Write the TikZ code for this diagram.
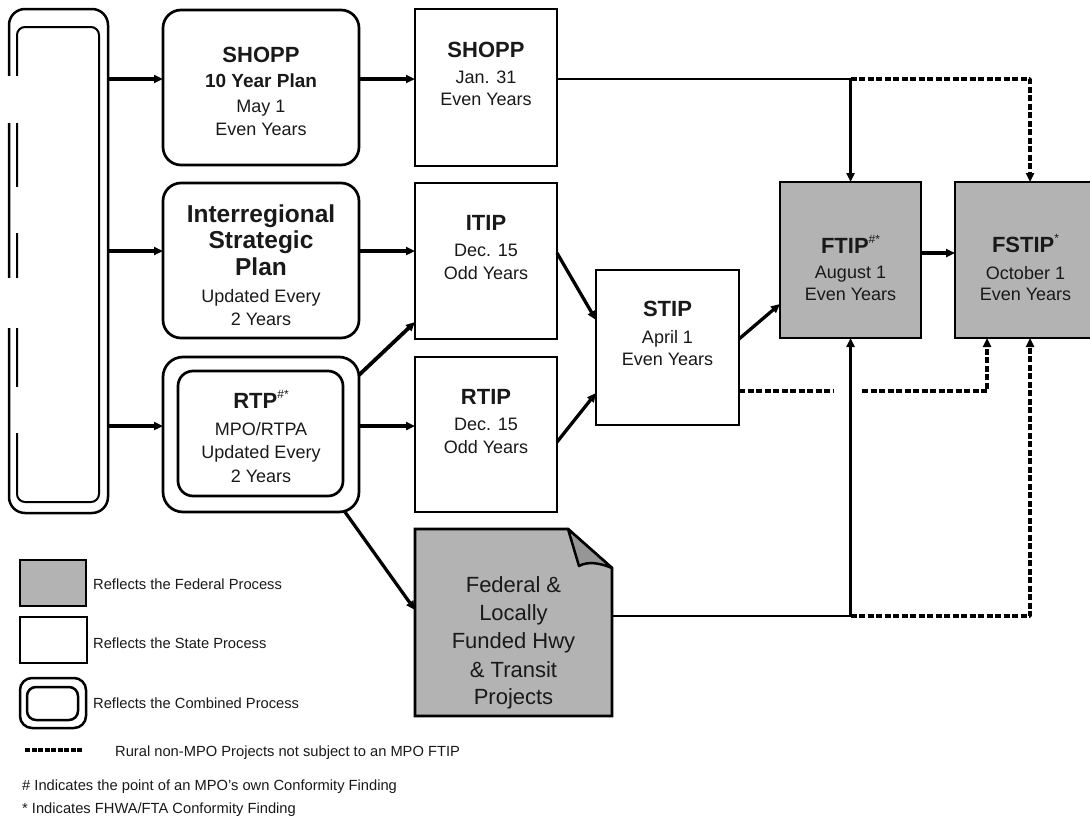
\documentclass[tikz,border=0pt]{standalone}
\usepackage{fontspec}
\setmainfont{Liberation Sans}
\usetikzlibrary{arrows.meta}
\definecolor{fedgray}{RGB}{179,179,179}
\definecolor{foldgray}{RGB}{150,150,150}
\definecolor{ink}{RGB}{25,25,25}
\newcommand\supmark[1]{\raisebox{0.45em}{\fontsize{12}{12}\selectfont\mdseries #1}}
\begin{document}
\begin{tikzpicture}[x=1pt,y=-1pt,
  box/.style={draw, line width=2.7pt, inner sep=0pt, outer sep=0pt},
  statebox/.style={box, fill=white},
  fedbox/.style={box, fill=fedgray},
  planbox/.style={box, rounded corners=18pt, minimum width=196pt, minimum height=155pt},
  ln/.style={anchor=base, inner sep=0pt, text=ink, font=\fontsize{18}{20}\selectfont},
  ttl/.style={anchor=base, inner sep=0pt, text=ink, font=\fontsize{22}{24}\selectfont\bfseries},
  bigttl/.style={ttl, font=\fontsize{24.5}{26}\selectfont\bfseries},
  doctext/.style={anchor=base, inner sep=0pt, text=ink, font=\fontsize{22}{24}\selectfont},
  arr/.style={line width=3.3pt, -{Triangle[length=9pt,width=8pt]}},
  thinln/.style={line width=2.5pt},
  dots/.style={line width=3.8pt, dash pattern=on 6pt off 2.5pt, line join=round},
  dotarr/.style={dots, -{Triangle[length=9pt,width=8pt]}},
  lgtext/.style={anchor=base west, inner sep=0pt, text=ink, font=\fontsize{14.7}{16}\selectfont},
]
\useasboundingbox (0,0) rectangle (1090,819);

% left tall box
\node[box, line width=2.5pt, rounded corners=16pt, minimum width=99pt, minimum height=504pt] (lbox) at (58.5,261) {};
\node[box, line width=2pt, rounded corners=8pt, minimum width=82pt, minimum height=475pt] (lboxin) at (58,264.5) {};
\fill[white] (4,76) rectangle (21,123);
\fill[white] (4,278) rectangle (21,328);
\fill[white] (13.5,187) rectangle (20.5,233);
\fill[white] (13.5,387) rectangle (20.5,433);

% plan boxes
\node[planbox] (plan) at (261,87.5) {};
\node[planbox] (isp) at (261,260.5) {};
\node[planbox, rounded corners=20pt] (rtp) at (261,434.5) {};
\node[box, rounded corners=15pt, minimum width=165pt, minimum height=125pt] (rtpin) at (260.5,433.5) {};

% state / federal boxes
\node[statebox, minimum width=142pt, minimum height=157pt] (shopp) at (486,87.5) {};
\node[statebox, minimum width=142pt, minimum height=156pt] (itip) at (486,261) {};
\node[statebox, minimum width=142pt, minimum height=155pt] (rtip) at (486,434.5) {};
\node[statebox, minimum width=143pt, minimum height=155pt] (stip) at (667.5,347.5) {};
\node[fedbox, minimum width=141pt, minimum height=156pt] (ftip) at (850.5,260) {};
\node[fedbox, minimum width=141pt, minimum height=156pt] (fstip) at (1025.5,260) {};

% document shape
\node[inner sep=0pt, outer sep=0pt, minimum width=197pt, minimum height=187pt] (doc) at (513.5,622.5) {};
\draw[line width=2.7pt, fill=fedgray, line join=miter] (doc.north west) -- ([xshift=-44pt]doc.north east) -- ([yshift=-39pt]doc.north east) -- (doc.south east) -- (doc.south west) -- cycle;
\draw[line width=2.5pt, fill=foldgray, line join=round] ([xshift=-44pt]doc.north east) -- ([xshift=-33pt,yshift=-37pt]doc.north east) .. controls ([xshift=-24pt,yshift=-32pt]doc.north east) and ([xshift=-12pt,yshift=-34pt]doc.north east) .. ([yshift=-39pt]doc.north east) -- cycle;

% texts
\node[ttl] (t1a) at (261,62) {SHOPP};
\node[ttl, font=\fontsize{19}{21}\selectfont\bfseries] (t1b) at (261,87) {10 Year Plan};
\node[ln] (t1c) at (261,112) {May 1};
\node[ln] (t1d) at (261,135) {Even Years};

\node[bigttl] (t2a) at (261,222) {Interregional};
\node[bigttl] (t2b) at (261,248) {Strategic};
\node[bigttl] (t2c) at (261,275) {Plan};
\node[ln] (t2d) at (261,302) {Updated Every};
\node[ln] (t2e) at (261,325) {2 Years};

\node[ttl] (t3a) at (261,408) {RTP\supmark{\#*}};
\node[ln] (t3b) at (261,435) {MPO/RTPA};
\node[ln] (t3c) at (261,458) {Updated Every};
\node[ln] (t3d) at (261,482) {2 Years};

\node[ttl] (t4a) at (486,57) {SHOPP};
\node[ln] (t4b) at (486,83) {Jan. 31};
\node[ln] (t4c) at (486,105) {Even Years};

\node[ttl] (t5a) at (486,230) {ITIP};
\node[ln] (t5b) at (486,256) {Dec. 15};
\node[ln] (t5c) at (486,279) {Odd Years};

\node[ttl] (t6a) at (486,404) {RTIP};
\node[ln] (t6b) at (486,430) {Dec. 15};
\node[ln] (t6c) at (486,453) {Odd Years};

\node[ttl] (t7a) at (667.5,316) {STIP};
\node[ln] (t7b) at (667.5,343) {April 1};
\node[ln] (t7c) at (667.5,365) {Even Years};

\node[ttl] (t8a) at (850.5,253) {FTIP\supmark{\#*}};
\node[ln] (t8b) at (850.5,278) {August 1};
\node[ln] (t8c) at (850.5,300) {Even Years};

\node[ttl] (t9a) at (1025.5,252) {FSTIP\supmark{*}};
\node[ln] (t9b) at (1025.5,279) {October 1};
\node[ln] (t9c) at (1025.5,300) {Even Years};

\node[doctext] (d1) at (513.5,592) {Federal \&};
\node[doctext] (d2) at (513.5,620) {Locally};
\node[doctext] (d3) at (513.5,648) {Funded Hwy};
\node[doctext] (d4) at (513.5,677) {\& Transit};
\node[doctext] (d5) at (513.5,704) {Projects};

% helper coordinates
\coordinate (r1) at (0,79);
\coordinate (r2) at (0,251);
\coordinate (r3) at (0,426);
\coordinate (y375) at (0,375);
\coordinate (y322) at (0,322);
\coordinate (y610) at (0,610);
\coordinate (y253) at (0,253);
\coordinate (y320) at (0,320);
\coordinate (y442) at (0,442);
\coordinate (y393) at (0,393);
\coordinate (y339) at (0,339);
\coordinate (y304) at (0,304);
\coordinate (y616) at (0,616);
\coordinate (cx) at (1030,0);
\coordinate (dx) at (987,0);
\coordinate (g1) at (833,391);
\coordinate (g2) at (862,391);

% connectors
\draw[arr] (lbox.east |- r1) -- (plan.west |- r1);
\draw[arr] (plan.east |- r1) -- (shopp.west |- r1);
\draw[arr] (lbox.east |- r2) -- (isp.west |- r2);
\draw[arr] (isp.east |- r2) -- (itip.west |- r2);
\draw[arr] (lbox.east |- r3) -- (rtp.west |- r3);
\draw[arr] (rtp.east |- r3) -- (rtip.west |- r3);
\draw[arr, line width=3.8pt] (rtp.east |- y375) -- (itip.west |- y322);
\draw[arr] ([xshift=-14pt]rtp.south east) -- (doc.west |- y610);
\draw[arr] (itip.east |- y253) -- (stip.west |- y320);
\draw[arr] (rtip.east |- y442) -- (stip.west |- y393);
\draw[arr] (stip.east |- y339) -- (ftip.west |- y304);
\draw[arr, line width=4pt] (ftip.east |- y253) -- (fstip.west |- y253);

\draw[thinln] (shopp.east |- r1) -- (ftip.north |- r1);
\draw[arr] (ftip.north |- r1) -- (ftip.north);
\draw[dotarr] (ftip.north |- r1) -- (cx |- r1) -- (fstip.north -| cx);

\draw[dots] (stip.east |- g1) -- (g1);
\draw[dotarr] (g2) -- (dx |- g2) -- (fstip.south -| dx);

\draw[thinln] (doc.east |- y616) -- (ftip.south |- y616);
\draw[arr] (ftip.south |- y616) -- (ftip.south);
\draw[dotarr] (ftip.south |- y616) -- (cx |- y616) -- (fstip.south -| cx);

% legend
\node[fedbox, line width=2.5pt, minimum width=66pt, minimum height=46pt] (lgfed) at (53,583) {};
\node[statebox, line width=2.5pt, minimum width=67pt, minimum height=46pt] (lgst) at (53.5,640) {};
\node[box, line width=2.5pt, rounded corners=12pt, minimum width=66pt, minimum height=50pt] (lgcomb) at (53,703) {};
\node[box, line width=2.5pt, rounded corners=9pt, minimum width=51pt, minimum height=33pt] (lgcombin) at (52.5,703.5) {};
\coordinate (lgd1) at (25,750);
\coordinate (lgd2) at (83,750);
\draw[dots, dash pattern=on 5pt off 1.5pt] (lgd1) -- (lgd2);

\node[lgtext] (lt1) at (93,589) {Reflects the Federal Process};
\node[lgtext] (lt2) at (93,648) {Reflects the State Process};
\node[lgtext] (lt3) at (93,708) {Reflects the Combined Process};
\node[lgtext] (lt4) at (115,756) {Rural non-MPO Projects not subject to an MPO FTIP};
\node[lgtext] (lt5) at (22,790) {\# Indicates the point of an MPO's own Conformity Finding};
\node[lgtext] (lt6) at (22,813) {* Indicates FHWA/FTA Conformity Finding};
\end{tikzpicture}
\end{document}
